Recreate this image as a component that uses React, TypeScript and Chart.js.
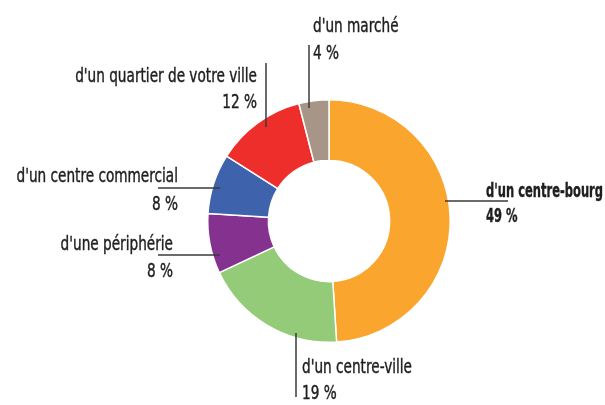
import React, { useEffect, useRef } from "react";
import { Chart, registerables } from "chart.js";

Chart.register(...registerables);

const categories = [
  "d'un centre-bourg",
  "d'un centre-ville",
  "d'une périphérie",
  "d'un centre commercial",
  "d'un quartier de votre ville",
  "d'un marché",
];
const values = [49, 19, 8, 8, 12, 4];
const colors = ["#F9A52E", "#93CB78", "#84318F", "#3F62AD", "#EE2E2B", "#A79688"];

// label layout, offsets relative to the doughnut centre
const labelLayout = [
  { line: [116, -20, 179, -20], x: 157, y1: -24, y2: 1, align: "left", bold: true },
  { line: [-33, 112, -33, 176], x: -27, y1: 152, y2: 178, align: "left", bold: false },
  { line: [-171, 34, -109, 34], x: -156, y1: 29, y2: 56, align: "right", bold: false },
  { line: [-171, -33, -109, -33], x: -151, y1: -39, y2: -11, align: "right", bold: false },
  { line: [-63, -158, -63, -94], x: -72, y1: -139, y2: -113, align: "right", bold: false },
  { line: [-20, -176, -20, -113], x: -16, y1: -189, y2: -162, align: "left", bold: false },
];

const FONT = "'DejaVu Sans Condensed', 'Liberation Sans', sans-serif";
const FONT_SIZE = 19;
// reference widths used to condense the text horizontally
const REF_NORMAL = { text: "d'un centre-ville", width: 110 };
const REF_BOLD = { text: "d'un centre-bourg", width: 117 };

const labelPlugin = {
  id: "leaderLabels",
  afterDraw(chart: any) {
    const meta = chart.getDatasetMeta(0);
    const ctx = chart.ctx;
    ctx.save();
    const normalFont = `${FONT_SIZE}px ${FONT}`;
    const boldFont = `bold ${FONT_SIZE}px ${FONT}`;
    ctx.font = normalFont;
    const sNormal = REF_NORMAL.width / ctx.measureText(REF_NORMAL.text).width;
    ctx.font = boldFont;
    const sBold = REF_BOLD.width / ctx.measureText(REF_BOLD.text).width;
    meta.data.forEach((arc: any, i: number) => {
      const L = labelLayout[i];
      if (!L) return;
      const cx = arc.x;
      const cy = arc.y;
      ctx.strokeStyle = "#3a3a3a";
      ctx.lineWidth = 1.5;
      ctx.beginPath();
      ctx.moveTo(cx + L.line[0], cy + L.line[1]);
      ctx.lineTo(cx + L.line[2], cy + L.line[3]);
      ctx.stroke();
      const s = L.bold ? sBold : sNormal;
      ctx.font = L.bold ? boldFont : normalFont;
      ctx.fillStyle = "#1e1e1e";
      ctx.strokeStyle = "#1e1e1e";
      ctx.lineWidth = 0.4;
      ctx.textAlign = L.align;
      ctx.textBaseline = "alphabetic";
      const lines = [
        [categories[i], L.y1],
        [`${values[i]} %`, L.y2],
      ];
      lines.forEach(([t, y]: any) => {
        ctx.save();
        ctx.translate(cx + L.x, cy + y);
        ctx.scale(s, 1);
        ctx.fillText(t, 0, 0);
        ctx.strokeText(t, 0, 0);
        ctx.restore();
      });
    });
    ctx.restore();
  },
};

export default function App() {
  const ref = useRef<HTMLCanvasElement | null>(null);
  useEffect(() => {
    document.body.style.margin = "0";
    const canvas = ref.current;
    if (!canvas) return;
    const chart = new Chart(canvas, {
      type: "doughnut",
      data: {
        labels: categories,
        datasets: [
          {
            data: values,
            backgroundColor: colors,
            borderColor: "#ffffff",
            borderWidth: 1.5,
          },
        ],
      },
      options: {
        responsive: false,
        animation: false,
        cutout: "50%",
        layout: { padding: { left: 207, right: 154, top: 99, bottom: 62 } },
        plugins: {
          legend: { display: false },
          tooltip: { enabled: false },
        },
      },
      plugins: [labelPlugin],
    });
    return () => chart.destroy();
  }, []);
  return (
    <div style={{ width: 605, height: 405, background: "#fff" }}>
      <canvas ref={ref} width={605} height={405} />
    </div>
  );
}
